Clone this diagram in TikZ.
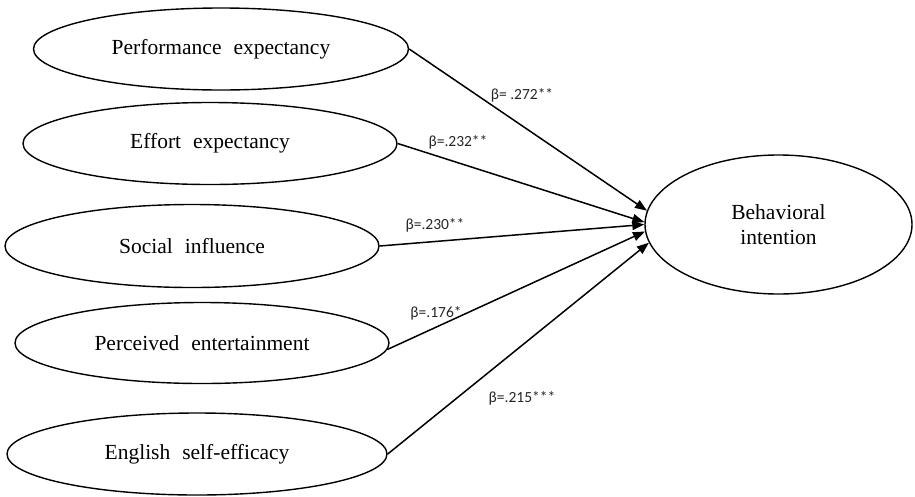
\documentclass[tikz,border=0pt]{standalone}
\usepackage{fontspec}
\setmainfont{Liberation Serif}
\newfontfamily\lblfont{Carlito}
\usetikzlibrary{arrows.meta,shapes.geometric}
\newcommand\cfont{\fontsize{21.5}{25}\selectfont\spaceskip 12pt plus 2pt minus 1pt\relax}
\newcommand\kfont{\lblfont\fontsize{15.5}{18}\selectfont}
\tikzset{
  construct/.style={draw=black, line width=1.4pt, ellipse, inner sep=0pt,
    font=\cfont, align=center},
  arr/.style={draw=black, line width=1.5pt, -{Triangle[length=12pt,width=9pt]}},
  coef/.style={font=\kfont, text=black!85, inner sep=0pt}
}
\begin{document}
\begin{tikzpicture}[x=1pt,y=-1pt]
\useasboundingbox (0,0) rectangle (915,496);
\node[construct, minimum width=375pt, minimum height=82pt] (pe) at (221,49) {Performance expectancy};
\node[construct, minimum width=374pt, minimum height=82pt] (ee) at (210,143.5) {Effort expectancy};
\node[construct, minimum width=374pt, minimum height=83pt] (si) at (192,246) {Social influence};
\node[construct, minimum width=374pt, minimum height=81pt] (pen) at (202,343) {Perceived entertainment};
\node[construct, minimum width=380pt, minimum height=82pt] (ese) at (197,454) {English self-efficacy};
\node[construct, minimum width=267pt, minimum height=139pt] (bi) at (778.5,224.5) {Behavioral\\intention};

\draw[arr] (pe.east) -- (bi.174.5);
\draw[arr] (ee.east) -- (bi.179.5);
\draw[arr] (si.east) -- (bi.180.5);
\draw[arr] (pen.-2) -- (bi.183.8);
\draw[arr] (ese.east) -- (bi.188);

\node[coef] (c1) at (522,95) {β= .272**};
\node[coef] (c2) at (458,142) {β=.232**};
\node[coef] (c3) at (435,225) {β=.230**};
\node[coef] (c4) at (436,313) {β=.176*};
\node[coef] (c5) at (522,398) {β=.215***};
\end{tikzpicture}
\end{document}
